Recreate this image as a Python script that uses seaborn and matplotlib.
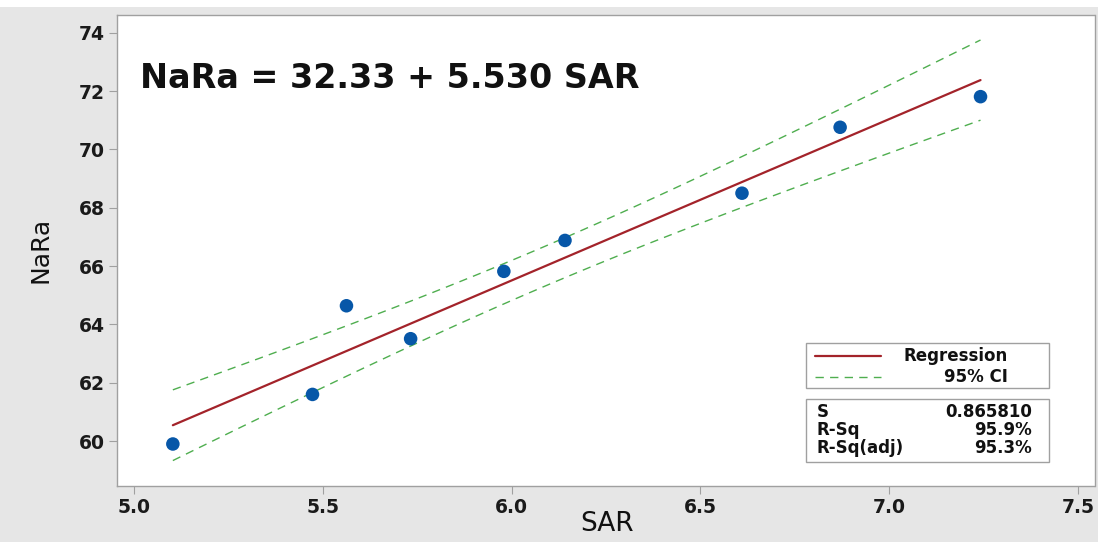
import numpy as np
import pandas as pd
import matplotlib
matplotlib.use("Agg")
import matplotlib.pyplot as plt
import seaborn as sns
from matplotlib.patches import Rectangle
from matplotlib.lines import Line2D

# ---------------- data ----------------
sar = [5.102, 5.472, 5.562, 5.732, 5.979, 6.141, 6.610, 6.870, 7.242]
nara = [59.90, 61.60, 64.64, 63.51, 65.82, 66.88, 68.50, 70.76, 71.81]
intercept = 32.33
slope = 5.530
s_value = 0.865810
r_sq = "95.9%"
r_sq_adj = "95.3%"
t_crit = 2.365  # t(0.975, df=7)
x_ticks = [5.0, 5.5, 6.0, 6.5, 7.0, 7.5]
y_ticks = [60, 62, 64, 66, 68, 70, 72, 74]

# ---------------- derived fit lines ----------------
x = np.array(sar)
n = len(x)
xbar = x.mean()
sxx = ((x - xbar) ** 2).sum()
xg = np.linspace(x.min(), x.max(), 60)
fit = intercept + slope * xg
half = t_crit * s_value * np.sqrt(1.0 / n + (xg - xbar) ** 2 / sxx)
pts = pd.DataFrame({"SAR": sar, "NaRa": nara})
lines = pd.DataFrame({"SAR": xg, "fit": fit, "lo": fit - half, "hi": fit + half})

# ---------------- style ----------------
sns.set_style("white")
plt.rcParams["font.family"] = ["DejaVu Sans"]

W, H = 1098, 542
fig = plt.figure(figsize=(W / 100, H / 100), dpi=100)
fig.patch.set_facecolor("#e6e6e6")
fig.patches.append(Rectangle((0, 1 - 7 / H), 1, 7 / H, transform=fig.transFigure,
                             facecolor="white", edgecolor="none", zorder=0))

def fx(px):
    return px / W

def fy(py):
    return 1 - py / H

ax = fig.add_axes([fx(117), fy(485.7), fx(1094.5) - fx(117), fy(15) - fy(485.7)])
ax.set_facecolor("white")

red = "#a3232a"
green = "#4fae4f"
blue = "#0757a8"

sns.lineplot(data=lines, x="SAR", y="hi", ax=ax, color=green, lw=1.0,
             linestyle=(0, (6, 4.5)), sort=False)
sns.lineplot(data=lines, x="SAR", y="lo", ax=ax, color=green, lw=1.0,
             linestyle=(0, (6, 4.5)), sort=False)
sns.lineplot(data=lines, x="SAR", y="fit", ax=ax, color=red, lw=1.6, sort=False)
sns.scatterplot(data=pts, x="SAR", y="NaRa", ax=ax, color=blue, s=95,
                edgecolor="none", zorder=5)

ax.set_xlim(4.954, 7.544)
ax.set_ylim(58.47, 74.61)
ax.set_xticks(x_ticks)
ax.set_xticklabels([f"{v:.1f}" for v in x_ticks])
ax.set_yticks(y_ticks)
ax.set_yticklabels([str(v) for v in y_ticks])
ax.tick_params(axis="both", which="major", direction="out", length=6, width=0.8,
               color="#a0a0a0", labelsize=13.5, pad=3, left=True, bottom=True)
for lab in ax.get_xticklabels() + ax.get_yticklabels():
    lab.set_fontweight("bold")
    lab.set_color("#1a1a1a")
for sp in ax.spines.values():
    sp.set_color("#a0a0a0")
    sp.set_linewidth(1.0)

ax.set_xlabel("")
ax.set_ylabel("")
fig.text(fx(607), fy(524), "SAR", ha="center", va="center", fontsize=19, color="#111111")
fig.text(fx(40), fy(250), "NaRa", ha="center", va="center", rotation=90,
         fontsize=18, color="#111111")

# equation
fig.text(fx(140), fy(78), f"NaRa = {intercept:.2f} + {slope:.3f} SAR", ha="left",
         va="center", fontsize=24, fontweight="bold", color="#111111")

# legend box
fig.patches.append(Rectangle((fx(806), fy(388)), fx(1049) - fx(806), fy(343) - fy(388),
                             transform=fig.transFigure, facecolor="white",
                             edgecolor="#a0a0a0", lw=1.0, zorder=6))
fig.lines.append(Line2D([fx(815), fx(881)], [fy(356), fy(356)], transform=fig.transFigure,
                        color=red, lw=1.6, zorder=7))
fig.lines.append(Line2D([fx(815), fx(881)], [fy(377), fy(377)], transform=fig.transFigure,
                        color=green, lw=1.0, linestyle=(0, (6, 4.5)), zorder=7))
fig.text(fx(1008), fy(356), "Regression", ha="right", va="center", fontsize=12,
         fontweight="bold", color="#111111", zorder=8)
fig.text(fx(1008), fy(377), "95% CI", ha="right", va="center", fontsize=12,
         fontweight="bold", color="#111111", zorder=8)

# stats box
fig.patches.append(Rectangle((fx(806), fy(462)), fx(1049) - fx(806), fy(399) - fy(462),
                             transform=fig.transFigure, facecolor="white",
                             edgecolor="#a0a0a0", lw=1.0, zorder=6))
rows = [("S", f"{s_value:.6f}", 412), ("R-Sq", r_sq, 430), ("R-Sq(adj)", r_sq_adj, 448)]
for left, right, py in rows:
    fig.text(fx(817), fy(py), left, ha="left", va="center", fontsize=12,
             fontweight="bold", color="#111111", zorder=8)
    fig.text(fx(1032), fy(py), right, ha="right", va="center", fontsize=12,
             fontweight="bold", color="#111111", zorder=8)

fig.savefig("out.png", dpi=100, facecolor=fig.get_facecolor())
